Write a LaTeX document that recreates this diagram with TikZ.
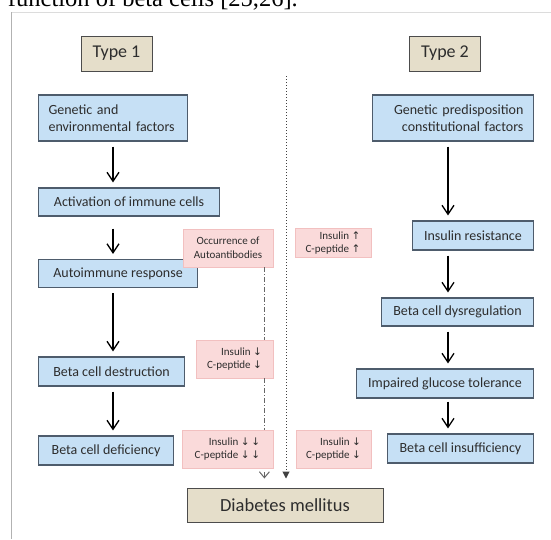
\documentclass[tikz,border=0pt]{standalone}
\usepackage{fontspec}
\setmainfont{Carlito}
\newfontfamily\pageserif{Liberation Serif}
\newfontfamily\arrowglyph{DejaVu Sans}
\usepackage{tikz}
\usetikzlibrary{arrows.meta, positioning}
\definecolor{textgrey}{RGB}{45,45,45}
\definecolor{boxblue}{RGB}{198,224,245}
\definecolor{edgeblue}{RGB}{78,92,108}
\definecolor{boxpink}{RGB}{250,218,218}
\definecolor{edgepink}{RGB}{242,192,192}
\definecolor{boxbeige}{RGB}{229,222,202}
\definecolor{framegrey}{RGB}{178,178,178}
\newcommand{\levelUp}{{\arrowglyph\fontsize{10.5}{10}\selectfont ↑}}
\newcommand{\levelDown}{{\arrowglyph\fontsize{10.5}{10}\selectfont ↓}}

\begin{document}
\begin{tikzpicture}[x=1pt, y=-1pt]
    % Styles
    \tikzstyle{typebox} = [rectangle, draw=black!70, line width=1pt, fill=boxbeige, text=textgrey, inner sep=0pt, font=\fontsize{18}{20}\selectfont, minimum height=35pt, minimum width=71pt]
    \tikzstyle{block} = [rectangle, draw=edgeblue, line width=1.1pt, fill=boxblue, text=textgrey, inner sep=0pt, font=\fontsize{14}{17}\selectfont, minimum height=28pt]
    \tikzstyle{marker} = [rectangle, draw=edgepink, line width=0.8pt, fill=boxpink, text=textgrey, inner sep=0pt, font=\fontsize{11}{13.5}\selectfont, minimum height=38pt, align=right]
    \tikzstyle{arrow} = [line width=1.3pt, -{Straight Barb[length=9pt, width=12pt]}, shorten <=5pt, shorten >=5pt]

    \useasboundingbox (0,0) rectangle (551,539);

    % Page frame and cut caption
    \draw [framegrey!45, line width=0.8pt] (11.5,12) -- (551,12);
    \draw [framegrey, line width=1.2pt] (11.5,12) -- (11.5,539);
    \begin{scope}
        \clip (0,0) rectangle (551,539);
        \node [anchor=base east, inner sep=0pt, font=\pageserif\fontsize{24.5}{24}\selectfont] (caption) at (298,6.5) {function of beta cells [25,26].};
    \end{scope}

    % Nodes
    \node [typebox] (type1) at (116.5,53.5) {Type 1};
    \node [typebox] (type2) at (445,53.5) {Type 2};

    \node [block, anchor=west, minimum width=149pt, minimum height=46pt, text width=129pt, align=left] (genetic1) at (38,118) {Genetic and\\environmental factors};
    \node [block, anchor=west, minimum width=181pt] (immune) at (38,202) {Activation of immune cells};
    \node [block, anchor=west, minimum width=159pt] (autoimm) at (38,273.5) {Autoimmune response};
    \node [block, anchor=west, minimum width=146pt, minimum height=29pt] (destroy) at (38,371.5) {Beta cell destruction};
    \node [block, anchor=west, minimum width=135pt, minimum height=29pt] (deficit) at (38,450.5) {Beta cell deficiency};

    \node [block, anchor=east, minimum width=161pt, minimum height=46pt, text width=141pt, align=right] (genetic2) at (534,118) {Genetic predisposition\\constitutional factors};
    \node [block, anchor=east, minimum width=121pt, minimum height=29pt] (resist) at (534,235.5) {Insulin resistance};
    \node [block, anchor=east, minimum width=152pt] (dysreg) at (534,312) {Beta cell dysregulation};
    \node [block, anchor=east, minimum width=177pt, minimum height=29pt] (glucose) at (534,383.5) {Impaired glucose tolerance};
    \node [block, anchor=east, minimum width=146pt, minimum height=29pt] (insuff) at (534,448.5) {Beta cell insufficiency};

    \node [marker, minimum width=90pt, align=center] (antibody) at (228,248) {Occurrence of\\Autoantibodies};
    \node [marker, minimum width=76pt, minimum height=29pt] (levelup) at (333,243) {Insulin \levelUp\\C-peptide \levelUp};
    \node [marker, minimum width=77pt] (leveldown) at (234.5,359) {Insulin \levelDown\\C-peptide \levelDown};
    \node [marker, minimum width=91pt] (levellow) at (227.5,449) {Insulin \levelDown\,\levelDown\\C-peptide \levelDown\,\levelDown};
    \node [marker, minimum width=75pt] (leveldown2) at (333.5,449) {Insulin \levelDown\\C-peptide \levelDown};

    \node [typebox, minimum width=196pt, minimum height=34pt, font=\fontsize{18.5}{20}\selectfont] (diabetes) at (285,505) {Diabetes mellitus};

    \coordinate (leftcol) at (113,0);
    \coordinate (rightcol) at (448,0);
    \coordinate (divide) at (286,76);

    % Arrows
    \draw [arrow] (genetic1.south -| leftcol) -- (immune.north -| leftcol);
    \draw [arrow, shorten <=12pt] (immune.south -| leftcol) -- (autoimm.north -| leftcol);
    \draw [arrow] (autoimm.south -| leftcol) -- (destroy.north -| leftcol);
    \draw [arrow] (destroy.south -| leftcol) -- (deficit.north -| leftcol);

    \draw [arrow] (genetic2.south -| rightcol) -- (resist.north -| rightcol);
    \draw [arrow] (resist.south -| rightcol) -- (dysreg.north -| rightcol);
    \draw [arrow] (dysreg.south -| rightcol) -- (glucose.north -| rightcol);
    \draw [arrow, shorten <=3pt] (glucose.south -| rightcol) -- (insuff.north -| rightcol);

    \draw [black!60, line width=1pt, dash pattern=on 5pt off 2pt on 1pt off 2pt] ([xshift=-9pt]antibody.south east) -- ([xshift=-9pt]leveldown.north east);
    \draw [black!60, line width=1pt, dash pattern=on 5pt off 2pt on 1pt off 2pt] ([xshift=-9pt]leveldown.south east) -- ([xshift=-9pt]levellow.north east);
    \draw [black!60, line width=1pt, -{Straight Barb[length=6pt, width=10pt]}, shorten <=4pt, shorten >=9pt] ([xshift=-9pt]levellow.south east) -- ([xshift=-9pt]levellow.south east |- diabetes.north);
    \draw [black!75, line width=1pt, dotted, -{Triangle[length=7pt, width=7pt]}, shorten >=9pt] (divide) -- (divide |- diabetes.north);
\end{tikzpicture}
\end{document}
